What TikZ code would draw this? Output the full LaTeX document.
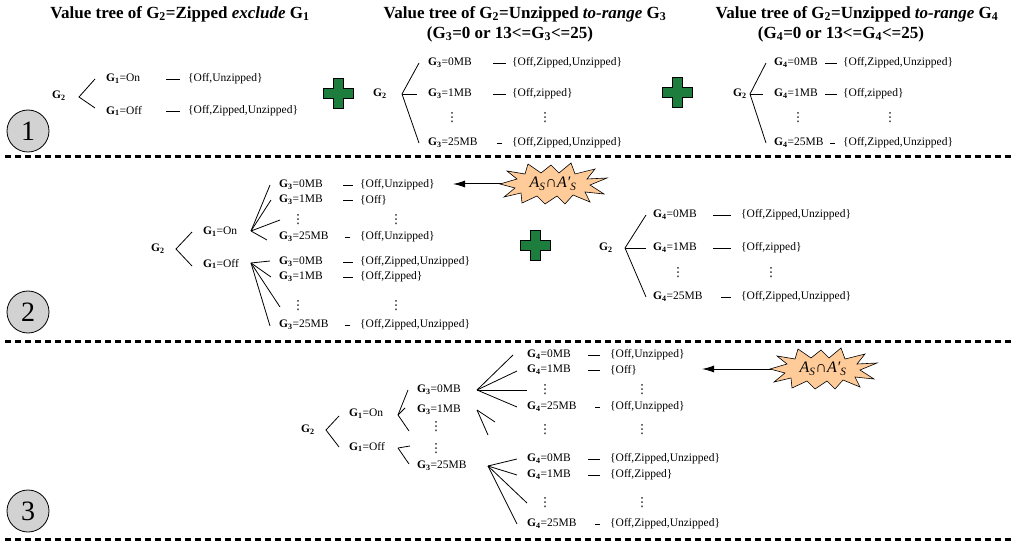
\documentclass[tikz,border=0pt]{standalone}
\usepackage{fontspec}
\setmainfont{Liberation Serif}
\newfontfamily\dotfont{DejaVu Sans}
\usetikzlibrary{arrows.meta}
\definecolor{pgreen}{RGB}{29,125,61}
\definecolor{peach}{RGB}{255,204,153}
\newcommand\myplus[2]{\filldraw[plusfill] (#1-5,#2-15) -- (#1+5,#2-15) -- (#1+5,#2-5) -- (#1+15,#2-5) -- (#1+15,#2+5) -- (#1+5,#2+5) -- (#1+5,#2+15) -- (#1-5,#2+15) -- (#1-5,#2+5) -- (#1-15,#2+5) -- (#1-15,#2-5) -- (#1-5,#2-5) -- cycle;}
\newcommand\myburst[2]{\begin{scope}[shift={(#1,#2)}]\filldraw[burstsh] (-53,0) -- (-36,-5) -- (-46,-13) -- (-28,-10) -- (-25,-20) -- (-12,-11) -- (-2,-19) -- (6,-11) -- (18,-21) -- (22,-10) -- (42,-15) -- (34,-5) -- (54,-6) -- (37,1) -- (51,10) -- (32,8) -- (37,18) -- (20,11) -- (12,20) -- (4,12) -- (-8,20) -- (-16,12) -- (-31,19) -- (-32,9) -- (-49,13) -- (-38,4) -- cycle;\end{scope}}
\newcommand\Gs[1]{\textbf{G\textsubscript{#1}}}
\newcommand\vd{{\dotfont ⋮}}
\tikzset{
 lab/.style={font=\fontsize{11.5}{13}\selectfont, inner sep=0pt, anchor=west},
 dts/.style={font=\fontsize{12.5}{14}\selectfont, inner sep=0pt},
 ttl/.style={font=\fontsize{17}{20}\selectfont\bfseries, inner sep=0pt},
 br/.style={line width=0.8pt},
 dsh/.style={line width=0.9pt},
 sepline/.style={line width=3pt, dash pattern=on 6pt off 4pt},
 numc/.style={circle, draw, line width=0.8pt, fill=gray!35, minimum size=42pt, inner sep=0pt, font=\fontsize{28}{30}\selectfont},
 plusfill/.style={fill=pgreen, draw=black, line width=1pt},
 burstsh/.style={fill=peach, draw=black, line width=0.6pt},
 burstnode/.style={inner sep=0pt, minimum width=104pt, minimum height=36pt, font=\fontsize{16}{18}\selectfont\itshape},
 arr/.style={-{Latex[length=12pt,width=7pt]}, line width=1pt}
}
\begin{document}
\begin{tikzpicture}[x=1pt,y=-1pt]
\useasboundingbox (0,0) rectangle (1014,545);
% separators
\coordinate (s1a) at (5,157); \coordinate (s1b) at (1014,157);
\coordinate (s2a) at (5,341); \coordinate (s2b) at (1014,341);
\coordinate (s3a) at (5,539); \coordinate (s3b) at (1014,539);
\draw[sepline] (s1a) -- (s1b);
\draw[sepline] (s2a) -- (s2b);
\draw[sepline] (s3a) -- (s3b);
% circles
\node[numc] (c1) at (28,131) {1};
\node[numc] (c2) at (28,312) {2};
\node[numc] (c3) at (28,511) {3};
% titles
\node[ttl] (t1) at (180,14) {Value tree of G\textsubscript{2}=Zipped \textit{exclude} G\textsubscript{1}};
\node[ttl] (t2) at (525,14) {Value tree of G\textsubscript{2}=Unzipped \textit{to-range} G\textsubscript{3}};
\node[ttl] (t2b) at (510,34) {(G\textsubscript{3}=0 or 13<=G\textsubscript{3}<=25)};
\node[ttl] (t3) at (857,14) {Value tree of G\textsubscript{2}=Unzipped \textit{to-range} G\textsubscript{4}};
\node[ttl] (t3b) at (841,34) {(G\textsubscript{4}=0 or 13<=G\textsubscript{4}<=25)};
% ---------- section 1, tree a
\node[lab] (a0) at (52,96) {\Gs{2}};
\node[lab] (a1) at (106,79) {\Gs{1}=On};
\node[lab] (a2) at (106,111) {\Gs{1}=Off};
\node[lab] (a1s) at (188,79) {\{Off,Unzipped\}};
\node[lab] (a2s) at (188,111) {\{Off,Zipped,Unzipped\}};
\coordinate (av) at (79,97);
\draw[br] (95,79) -- (av) -- (95,108);
\draw[dsh] ([xshift=-22pt]a1s.west) -- ([xshift=-8pt]a1s.west);
\draw[dsh] ([xshift=-22pt]a2s.west) -- ([xshift=-8pt]a2s.west);
\myplus{338}{94}
% ---------- section 1, tree b
\node[lab] (b0) at (373,94) {\Gs{2}};
\coordinate (bv) at (402,94);
\node[lab] (b1) at (428,63) {\Gs{3}=0MB};
\node[lab] (b2) at (428,94) {\Gs{3}=1MB};
\node[dts] (bd) at (452,118) {\vd};
\node[lab] (b3) at (428,143) {\Gs{3}=25MB};
\node[lab] (b1s) at (512,63) {\{Off,Zipped,Unzipped\}};
\node[lab] (b2s) at (512,94) {\{Off,zipped\}};
\node[dts] (bds) at (545,118) {\vd};
\node[lab] (b3s) at (512,143) {\{Off,Zipped,Unzipped\}};
\draw[br] (419,63) -- (bv) -- (419,143);
\draw[br] (bv) -- (417,94);
\draw[dsh] ([xshift=-19pt]b1s.west) -- ([xshift=-6pt]b1s.west);
\draw[dsh] ([xshift=-19pt]b2s.west) -- ([xshift=-6pt]b2s.west);
\draw[dsh] ([xshift=-15pt]b3s.west) -- ([xshift=-10pt]b3s.west);
\myplus{677}{93}
% ---------- section 1, tree c
\node[lab] (d0) at (733,94) {\Gs{2}};
\coordinate (dv) at (750,94);
\node[lab] (d1) at (774,63) {\Gs{4}=0MB};
\node[lab] (d2) at (774,94) {\Gs{4}=1MB};
\node[dts] (dd) at (798,118) {\vd};
\node[lab] (d3) at (774,143) {\Gs{4}=25MB};
\node[lab] (d1s) at (843,63) {\{Off,Zipped,Unzipped\}};
\node[lab] (d2s) at (843,94) {\{Off,zipped\}};
\node[dts] (dds) at (890,118) {\vd};
\node[lab] (d3s) at (843,143) {\{Off,Zipped,Unzipped\}};
\draw[br] (766,63) -- (dv) -- (766,143);
\draw[br] (dv) -- (763,94);
\draw[dsh] ([xshift=-18pt]d1s.west) -- ([xshift=-6pt]d1s.west);
\draw[dsh] ([xshift=-18pt]d2s.west) -- ([xshift=-6pt]d2s.west);
\draw[dsh] ([xshift=-13pt]d3s.west) -- ([xshift=-8pt]d3s.west);
% ---------- section 2, tree A
\node[lab] (e0) at (151,249) {\Gs{2}};
\coordinate (ev) at (176,249);
\node[lab] (e1) at (203,232) {\Gs{1}=On};
\node[lab] (e2) at (203,264) {\Gs{1}=Off};
\draw[br] (192,232) -- (ev) -- (192,266);
\coordinate (eov) at (251,231);
\coordinate (efv) at (251,263);
\draw[br] (eov) -- (270,185); \draw[br] (eov) -- (271,200);
\draw[br] (eov) -- (280,220); \draw[br] (eov) -- (267,240);
\draw[br] (efv) -- (270,261); \draw[br] (efv) -- (271,277);
\draw[br] (efv) -- (280,307); \draw[br] (efv) -- (270,326);
\node[lab] (e11) at (279,185) {\Gs{3}=0MB};
\node[lab] (e12) at (279,200) {\Gs{3}=1MB};
\node[dts] (e1d) at (298,220) {\vd};
\node[lab] (e13) at (279,237) {\Gs{3}=25MB};
\node[lab] (e21) at (279,262) {\Gs{3}=0MB};
\node[lab] (e22) at (279,277) {\Gs{3}=1MB};
\node[dts] (e2d) at (298,306) {\vd};
\node[lab] (e23) at (279,325) {\Gs{3}=25MB};
\node[lab] (e11s) at (360,185) {\{Off,Unzipped\}};
\node[lab] (e12s) at (360,200) {\{Off\}};
\node[dts] (e1ds) at (396,220) {\vd};
\node[lab] (e13s) at (360,237) {\{Off,Unzipped\}};
\node[lab] (e21s) at (360,262) {\{Off,Zipped,Unzipped\}};
\node[lab] (e22s) at (360,277) {\{Off,Zipped\}};
\node[dts] (e2ds) at (396,306) {\vd};
\node[lab] (e23s) at (360,325) {\{Off,Zipped,Unzipped\}};
\foreach \n in {e11s,e12s,e21s,e22s}{\draw[dsh] ([xshift=-17pt]\n.west) -- ([xshift=-7pt]\n.west);}
\foreach \n in {e13s,e23s}{\draw[dsh] ([xshift=-15pt]\n.west) -- ([xshift=-10pt]\n.west);}
% starburst 2 and arrow
\myburst{553}{184}
\node[burstnode] (x2) at (553,184) {A\textsubscript{S}\upshape∩\itshape A′\textsubscript{S}};
\coordinate (tip2) at (453,184);
\draw[arr] (x2.west) -- (tip2);
\myplus{535}{246}
% ---------- section 2, tree B
\node[lab] (f0) at (599,248) {\Gs{2}};
\coordinate (fv) at (625,248);
\node[lab] (f1) at (653,215) {\Gs{4}=0MB};
\node[lab] (f2) at (653,248) {\Gs{4}=1MB};
\node[dts] (fd) at (678,273) {\vd};
\node[lab] (f3) at (653,297) {\Gs{4}=25MB};
\node[lab] (f1s) at (741,215) {\{Off,Zipped,Unzipped\}};
\node[lab] (f2s) at (741,248) {\{Off,zipped\}};
\node[dts] (fds) at (771,273) {\vd};
\node[lab] (f3s) at (741,297) {\{Off,Zipped,Unzipped\}};
\draw[br] (646,215) -- (fv) -- (646,297);
\draw[br] (fv) -- (646,248);
\draw[dsh] ([xshift=-28pt]f1s.west) -- ([xshift=-10pt]f1s.west);
\draw[dsh] ([xshift=-28pt]f2s.west) -- ([xshift=-10pt]f2s.west);
\draw[dsh] ([xshift=-20pt]f3s.west) -- ([xshift=-10pt]f3s.west);
% ---------- section 3
\node[lab] (g0) at (301,430) {\Gs{2}};
\coordinate (gv) at (326,430);
\node[lab] (g1) at (349,414) {\Gs{1}=On};
\node[lab] (g2) at (349,447) {\Gs{1}=Off};
\draw[br] (339,416) -- (gv) -- (339,447);
\coordinate (gov) at (398,415);
\draw[br] (gov) -- (408,390); \draw[br] (gov) -- (405,408); \draw[br] (gov) -- (409,431);
\coordinate (gfv) at (398,448);
\draw[br] (gfv) -- (410,446); \draw[br] (gfv) -- (409,464);
\node[lab] (h1) at (417,390) {\Gs{3}=0MB};
\node[lab] (h2) at (417,410) {\Gs{3}=1MB};
\node[dts] (hd1) at (436,427) {\vd};
\node[dts] (hd2) at (436,449) {\vd};
\node[lab] (h3) at (417,466) {\Gs{3}=25MB};
\coordinate (h1v) at (477,390);
\draw[br] (h1v) -- (513,355); \draw[br] (h1v) -- (517,371);
\draw[br] (h1v) -- (527,390); \draw[br] (h1v) -- (517,407);
\coordinate (h2v) at (477,410);
\draw[br] (h2v) -- (495,422); \draw[br] (h2v) -- (488,435);
\coordinate (h3v) at (488,466);
\draw[br] (h3v) -- (517,459); \draw[br] (h3v) -- (517,475);
\draw[br] (h3v) -- (527,503); \draw[br] (h3v) -- (517,524);
\node[lab] (k11) at (527,355) {\Gs{4}=0MB};
\node[lab] (k12) at (527,370) {\Gs{4}=1MB};
\node[dts] (k1d) at (545,390) {\vd};
\node[lab] (k13) at (527,407) {\Gs{4}=25MB};
\node[dts] (kmd) at (545,430) {\vd};
\node[lab] (k21) at (527,459) {\Gs{4}=0MB};
\node[lab] (k22) at (527,475) {\Gs{4}=1MB};
\node[dts] (k2d) at (545,503) {\vd};
\node[lab] (k23) at (527,524) {\Gs{4}=25MB};
\node[lab] (k11s) at (610,355) {\{Off,Unzipped\}};
\node[lab] (k12s) at (610,370) {\{Off\}};
\node[dts] (k1ds) at (642,390) {\vd};
\node[lab] (k13s) at (610,407) {\{Off,Unzipped\}};
\node[dts] (kmds) at (642,430) {\vd};
\node[lab] (k21s) at (610,459) {\{Off,Zipped,Unzipped\}};
\node[lab] (k22s) at (610,475) {\{Off,Zipped\}};
\node[dts] (k2ds) at (642,503) {\vd};
\node[lab] (k23s) at (610,524) {\{Off,Zipped,Unzipped\}};
\foreach \n in {k11s,k12s,k21s,k22s}{\draw[dsh] ([xshift=-22pt]\n.west) -- ([xshift=-10pt]\n.west);}
\foreach \n in {k13s,k23s}{\draw[dsh] ([xshift=-15pt]\n.west) -- ([xshift=-10pt]\n.west);}
% starburst 3 and arrow
\myburst{823}{369}
\node[burstnode] (x3) at (823,369) {A\textsubscript{S}\upshape∩\itshape A′\textsubscript{S}};
\coordinate (tip3) at (702,369);
\draw[arr] (x3.west) -- (tip3);
\end{tikzpicture}
\end{document}
